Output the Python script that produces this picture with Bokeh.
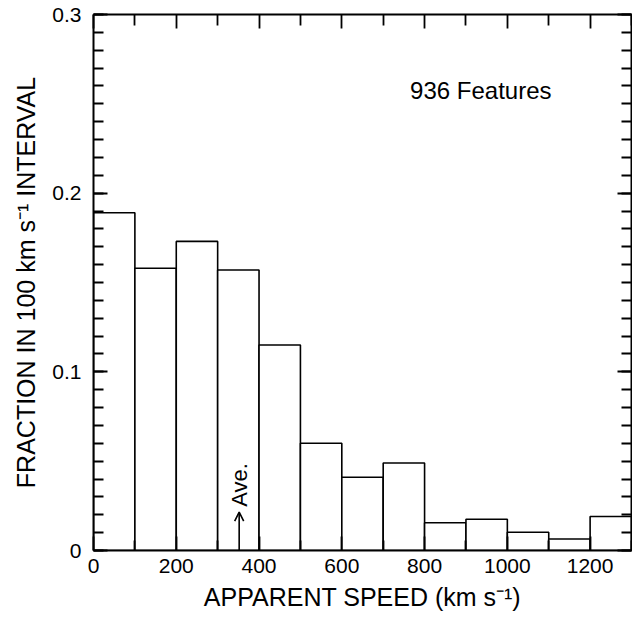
from bokeh.plotting import figure
from bokeh.models import (LinearAxis, FixedTicker, Range1d, Arrow, OpenHead,
                          ColumnDataSource, Label, CustomJSTickFormatter)
from bokeh.embed import file_html
from bokeh.resources import INLINE

# ---- data ----
bin_left = [0, 100, 200, 300, 400, 500, 600, 700, 800, 900, 1000, 1100, 1200]
bin_right = [100, 200, 300, 400, 500, 600, 700, 800, 900, 1000, 1100, 1200, 1300]
fraction = [0.189, 0.158, 0.173, 0.157, 0.115, 0.060, 0.041, 0.049,
            0.0155, 0.0175, 0.0102, 0.0064, 0.019]
average_speed = 352
x_major = [0, 200, 400, 600, 800, 1000, 1200]
x_minor = [100, 300, 500, 700, 900, 1100, 1300]
y_major = [0, 0.1, 0.2, 0.3]
y_minor = [i / 100 for i in range(31)]
annotation = "936 Features"

FONT = "Liberation Sans"

p = figure(width=632, height=620, output_backend="svg", toolbar_location=None,
           x_range=Range1d(0, 1300), y_range=Range1d(0, 0.3),
           min_border_left=93, min_border_right=1, min_border_top=14,
           min_border_bottom=70, x_axis_location=None, y_axis_location=None)
p.grid.visible = False
p.outline_line_color = None
p.background_fill_color = "white"
p.border_fill_color = "white"

src = ColumnDataSource(dict(left=bin_left, right=bin_right, top=fraction,
                            bottom=[0] * len(fraction)))
p.quad(left="left", right="right", top="top", bottom="bottom", source=src,
       fill_color="white", line_color="black", line_width=1.6)


def style_axis(ax, show_labels, title=None):
    ax.axis_line_width = 2
    ax.axis_line_color = "black"
    ax.major_tick_in = 14
    ax.major_tick_out = 0
    ax.minor_tick_in = 10
    ax.minor_tick_out = 0
    ax.major_tick_line_width = 1.8
    ax.minor_tick_line_width = 1.8
    ax.major_tick_line_color = "black"
    ax.minor_tick_line_color = "black"
    if show_labels:
        ax.major_label_text_font = FONT
        ax.major_label_text_font_size = "21px"
        ax.major_label_text_color = "black"
        ax.major_label_standoff = 10
        ax.axis_label = title
        ax.axis_label_text_font = FONT
        ax.axis_label_text_font_size = "25px"
        ax.axis_label_text_font_style = "normal"
        ax.axis_label_text_color = "black"
        ax.axis_label_standoff = 8
    else:
        ax.formatter = CustomJSTickFormatter(code="return ''")
        ax.major_label_standoff = 0


xb = LinearAxis(ticker=FixedTicker(ticks=x_major, minor_ticks=x_minor))
style_axis(xb, True, "APPARENT SPEED (km s\u207b\u00b9)")
xb.major_label_standoff = 8
xb.axis_label_standoff = 7
xt = LinearAxis(ticker=FixedTicker(ticks=x_major, minor_ticks=x_minor))
style_axis(xt, False)
xt.minor_tick_in = 11
yl = LinearAxis(ticker=FixedTicker(ticks=y_major, minor_ticks=y_minor))
style_axis(yl, True, "FRACTION IN 100 km s\u207b\u00b9 INTERVAL")
yl.major_label_standoff = 12
yl.axis_label_standoff = 9
yl.major_label_overrides = {0: "0", 0.1: "0.1", 0.2: "0.2", 0.3: "0.3"}
yr = LinearAxis(ticker=FixedTicker(ticks=y_major, minor_ticks=y_minor))
style_axis(yr, False)

p.add_layout(xb, "below")
p.add_layout(xt, "above")
p.add_layout(yl, "left")
p.add_layout(yr, "right")

p.add_layout(Arrow(end=OpenHead(size=9, line_width=1.6, line_color="black"),
                   x_start=average_speed, y_start=0, x_end=average_speed, y_end=0.0215,
                   line_color="black", line_width=1.6))
p.add_layout(Label(x=average_speed, y=0.0245, text="Ave.", angle=1.5708,
                   text_align="left", text_baseline="middle",
                   text_font=FONT, text_font_size="22px", text_color="black"))
p.add_layout(Label(x=765, y=0.2576, text=annotation, text_align="left",
                   text_baseline="alphabetic", text_font=FONT,
                   text_font_size="24px", text_color="black"))

open("out.html", "w").write(file_html(p, INLINE))
